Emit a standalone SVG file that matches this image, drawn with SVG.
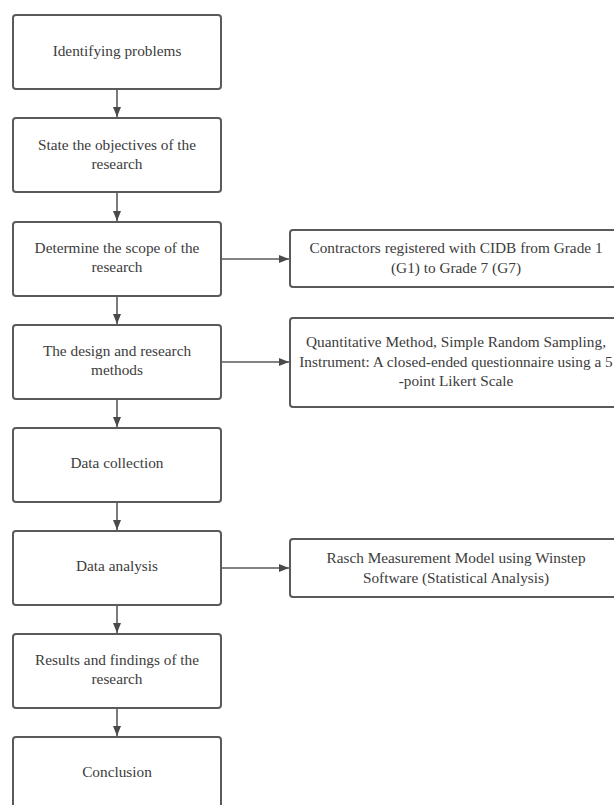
<svg xmlns="http://www.w3.org/2000/svg" width="614" height="805" viewBox="0 0 614 805">
<defs>
<style>
.box{fill:#fff;stroke:#5a5a5a;stroke-width:2}
.t{font-family:"Liberation Serif","Times New Roman",serif;font-size:15.3px;fill:#3c3c3c;text-anchor:middle}
.c{stroke:#5a5a5a;stroke-width:1.6;fill:none;marker-end:url(#ah)}
</style>
<marker id="ah" viewBox="0 0 10 10" refX="10" refY="5" markerWidth="10" markerHeight="10" markerUnits="userSpaceOnUse" orient="auto">
<path d="M0,1 L10,5 L0,9 Z" fill="#4a4a4a"/>
</marker>
</defs>
<rect width="614" height="805" fill="#fff"/>
<g id="connectors">
<line class="c" x1="117" y1="89" x2="117" y2="117"/>
<line class="c" x1="117" y1="192" x2="117" y2="221"/>
<line class="c" x1="117" y1="296" x2="117" y2="324"/>
<line class="c" x1="117" y1="399" x2="117" y2="427"/>
<line class="c" x1="117" y1="502" x2="117" y2="530"/>
<line class="c" x1="117" y1="605" x2="117" y2="633"/>
<line class="c" x1="117" y1="708" x2="117" y2="736"/>
<line class="c" x1="221" y1="259" x2="289" y2="259"/>
<line class="c" x1="221" y1="362" x2="289" y2="362"/>
<line class="c" x1="221" y1="568" x2="289" y2="568"/>
</g>
<g id="n1"><rect class="box" x="13" y="15" width="208" height="74" rx="3"/><text class="t" x="117" y="56">Identifying problems</text></g>
<g id="n2"><rect class="box" x="13" y="118" width="208" height="74" rx="3"/><text class="t" x="117" y="150">State the objectives of the</text><text class="t" x="117" y="169">research</text></g>
<g id="n3"><rect class="box" x="13" y="222" width="208" height="74" rx="3"/><text class="t" x="117" y="253">Determine the scope of the</text><text class="t" x="117" y="272">research</text></g>
<g id="n4"><rect class="box" x="13" y="325" width="208" height="74" rx="3"/><text class="t" x="117" y="356">The design and research</text><text class="t" x="117" y="375">methods</text></g>
<g id="n5"><rect class="box" x="13" y="428" width="208" height="74" rx="3"/><text class="t" x="117" y="468">Data collection</text></g>
<g id="n6"><rect class="box" x="13" y="531" width="208" height="74" rx="3"/><text class="t" x="117" y="571">Data analysis</text></g>
<g id="n7"><rect class="box" x="13" y="634" width="208" height="74" rx="3"/><text class="t" x="117" y="665">Results and findings of the</text><text class="t" x="117" y="684">research</text></g>
<g id="n8"><rect class="box" x="13" y="737" width="208" height="74" rx="3"/><text class="t" x="117" y="777">Conclusion</text></g>
<g id="r1"><rect class="box" x="290" y="230" width="340" height="57" rx="3"/><text class="t" x="456" y="253">Contractors registered with CIDB from Grade 1</text><text class="t" x="456" y="273">(G1) to Grade 7 (G7)</text></g>
<g id="r2"><rect class="box" x="290" y="318" width="340" height="89" rx="3"/><text class="t" x="456" y="347">Quantitative Method, Simple Random Sampling,</text><text class="t" x="456" y="367">Instrument: A closed-ended questionnaire using a 5</text><text class="t" x="456" y="386">-point Likert Scale</text></g>
<g id="r3"><rect class="box" x="290" y="539" width="340" height="58" rx="3"/><text class="t" x="456" y="563">Rasch Measurement Model using Winstep</text><text class="t" x="456" y="583">Software (Statistical Analysis)</text></g>
</svg>
